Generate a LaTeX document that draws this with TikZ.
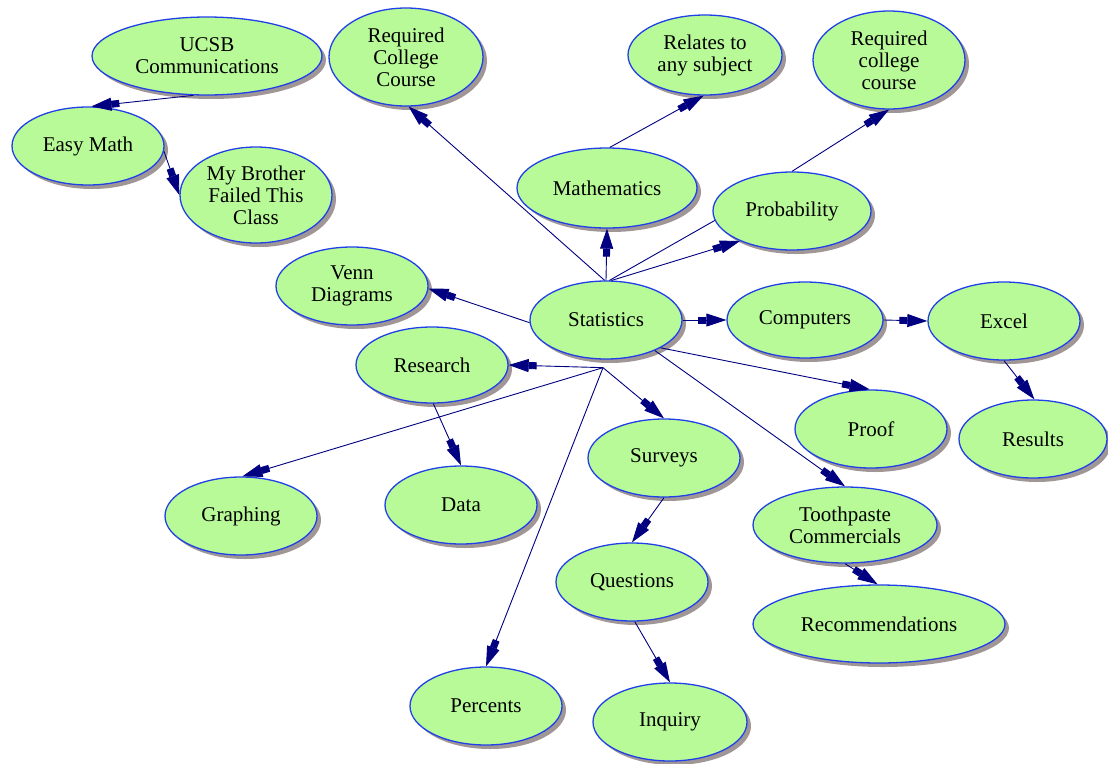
\documentclass[tikz,border=0pt]{standalone}
\usepackage{fontspec}
\setmainfont{Liberation Serif}
\usetikzlibrary{shapes.geometric,shadows,arrows.meta}
\definecolor{bubble}{RGB}{184,250,152}
\definecolor{rim}{RGB}{32,64,232}
\definecolor{ink}{RGB}{0,0,128}
\definecolor{shade}{RGB}{160,150,150}
\tikzset{
  idea/.style={ellipse, draw=rim, line width=1.3pt, fill=bubble, inner sep=0pt,
    minimum width=152pt, minimum height=78pt, align=center,
    font=\fontsize{21}{22}\selectfont,
    drop shadow={shadow xshift=4pt, shadow yshift=-4pt, fill=shade, opacity=1}},
  link/.style={draw=ink, line width=0.9pt,
    -{Rectangle[length=8pt,width=7pt]Triangle[length=20pt,width=13pt]}},
  plain/.style={draw=ink, line width=0.9pt},
}
\begin{document}
\begin{tikzpicture}[x=1pt,y=-1pt]
\useasboundingbox (0,0) rectangle (1108,763);

% concepts
\node[idea, minimum width=230pt] (ucsb) at (207,56) {UCSB\\Communications};
\node[idea, minimum width=154pt, minimum height=98pt] (rcc) at (406,57) {Required\\College\\Course};
\node[idea, minimum width=154pt, minimum height=80pt] (relates) at (705,55) {Relates to\\any subject};
\node[idea, minimum height=98pt] (rcc2) at (889,60) {Required\\college\\course};
\node[idea] (easy) at (88,146) {Easy Math};
\node[idea, minimum height=96pt] (brother) at (256,195) {My Brother\\Failed This\\Class};
\node[idea, minimum width=180pt, minimum height=80pt] (math) at (607,188) {Mathematics};
\node[idea, minimum width=158pt] (prob) at (792,211) {Probability};
\node[idea] (stat) at (606,320) {Statistics};
\node[idea, minimum width=156pt, minimum height=76pt] (comp) at (805,320) {Computers};
\node[idea] (excel) at (1004,321) {Excel};
\node[idea] (venn) at (352,286) {Venn\\Diagrams};
\node[idea, minimum height=76pt] (research) at (432,365) {Research};
\node[idea] (proof) at (871,429) {Proof};
\node[idea, minimum width=148pt] (results) at (1033,439) {Results};
\node[idea] (surveys) at (664,458) {Surveys};
\node[idea] (data) at (461,505) {Data};
\node[idea] (graphing) at (241,516) {Graphing};
\node[idea, minimum width=184pt, minimum height=76pt] (tooth) at (845,525) {Toothpaste\\Commercials};
\node[idea] (questions) at (632,582) {Questions};
\node[idea, minimum width=252pt] (recom) at (879,624) {Recommendations};
\node[idea] (percents) at (486,706) {Percents};
\node[idea, minimum width=154pt] (inquiry) at (670,722) {Inquiry};

% meeting point of the lines leaving Statistics from below
\coordinate (hub) at ([shift={(-3pt,-8pt)}]stat.south);

% links
\draw[link] (ucsb.-109) -- (easy.85);
\draw[link] (easy.-4) -- (brother.180);
\draw[link] (stat.92) -- (rcc.-87);
\draw[link] (stat.north) -- (math.south);
\draw[link] (math.86) -- (relates.-92);
\draw[plain] (stat.85) -- (prob.187);
\draw[link] (stat.82) -- (prob.210);
\draw[link] (prob.north) -- (rcc2.south);
\draw[link] (stat.east) -- (comp.west);
\draw[link] (comp.east) -- (excel.west);
\draw[link] (excel.south) -- (results.88);
\draw[link] (stat.182) -- (venn.-2);
\draw[link] (hub) -- (research.east);
\draw[link] (hub) -- (graphing.88);
\draw[link] (research.-88) -- (data.north);
\draw[link] (hub) -- (percents.north);
\draw[link] (hub) -- (surveys.north);
\draw[link] (surveys.south) -- (questions.north);
\draw[link] (questions.-86) -- (inquiry.north);
\draw[link] (stat.-27) -- (proof.92);
\draw[link] (stat.-32) -- (tooth.north);
\draw[link] (tooth.south) -- (recom.92);
\end{tikzpicture}
\end{document}
